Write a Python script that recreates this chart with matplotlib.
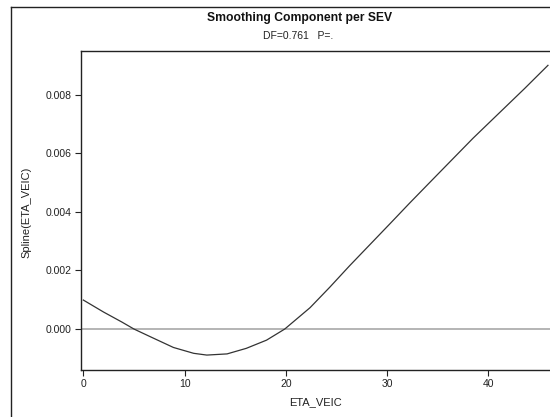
import matplotlib
matplotlib.use("Agg")
import matplotlib.pyplot as plt
from matplotlib.lines import Line2D
from matplotlib.ticker import FormatStrFormatter

plt.rcParams['font.family'] = ['Liberation Sans', 'DejaVu Sans']

# Spline component over ETA_VEIC
eta_veic = [0.0, 2.0, 3.8, 5.0, 6.6, 8.9, 10.9, 12.2, 14.2, 16.1, 18.1, 19.9,
            22.4, 24.35, 26.3, 28.3, 30.3, 32.2, 34.2, 38.5, 43.6, 45.9]
spline_val = [0.00099, 0.00058, 0.00024, 0.0, -0.00026, -0.00063, -0.00083,
              -0.00089, -0.00085, -0.00066, -0.00038, 0.0, 0.00073, 0.00143,
              0.00216, 0.00288, 0.00360, 0.00429, 0.00500, 0.00652, 0.00822,
              0.00901]

title = "Smoothing Component per SEV"
subtitle = "DF=0.761   P=."
x_label = "ETA_VEIC"
y_label = "Spline(ETA_VEIC)"
x_ticks = [0, 10, 20, 30, 40]
y_ticks = [0.0, 0.002, 0.004, 0.006, 0.008]

W, H = 550, 417
fig = plt.figure(figsize=(W / 100, H / 100), dpi=100)

# outer frame of the graph
fig.add_artist(Line2D([10.5 / W, 10.5 / W], [0, 1 - 7 / H], color='#222222', lw=1.0))
fig.add_artist(Line2D([10.5 / W, 1.0], [1 - 7 / H, 1 - 7 / H], color='#222222', lw=1.0))

left, right, top, bottom = 81, 552, 50.7, 370
ax = fig.add_axes([left / W, 1 - bottom / H, (right - left) / W, (bottom - top) / H])

ax.axhline(0.0, color='#b4b4b4', lw=1.4, zorder=1)
ax.plot(eta_veic, spline_val, color='#333333', lw=0.9, zorder=2)

ax.set_xlim(-0.23, 46.3)
ax.set_ylim(-0.00140, 0.00951)
ax.set_xticks(x_ticks)
ax.set_yticks(y_ticks)
ax.yaxis.set_major_formatter(FormatStrFormatter('%.3f'))

for s in ax.spines.values():
    s.set_color('#222222')
    s.set_linewidth(1.0)

ax.tick_params(axis='both', direction='out', length=4.5, width=0.8,
               color='#222222', labelsize=7.5, labelcolor='#222222', pad=2)

fig.text(316 / W, 1 - 402 / H, x_label, ha='center', va='center',
         fontsize=8, color='#222222')
fig.text(26 / W, 1 - 212 / H, y_label, ha='center', va='center',
         rotation=90, fontsize=8, color='#222222')

fig.text(300 / W, 1 - 18 / H, title, ha='center', va='center',
         fontsize=8.7, fontweight='bold', color='#111111')
fig.text(298 / W, 1 - 36 / H, subtitle, ha='center', va='center',
         fontsize=7.5, color='#222222')

fig.savefig('out.png', dpi=100)
